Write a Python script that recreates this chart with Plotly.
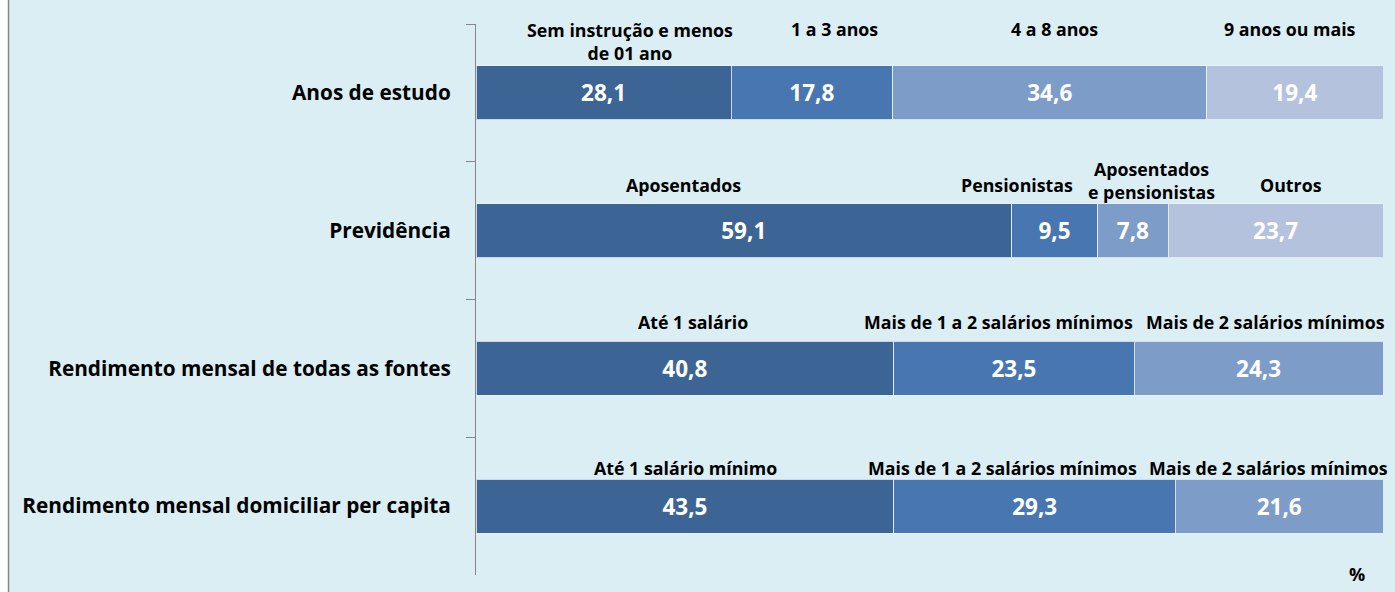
import plotly.graph_objects as go

# ---------------- data ----------------
categories = ["Anos de estudo", "Previdência",
              "Rendimento mensal de todas as fontes",
              "Rendimento mensal domiciliar per capita"]

level1 = [28.1, 59.1, 40.8, 43.5]
level2 = [17.8, 9.5, 23.5, 29.3]
level3 = [34.6, 7.8, 24.3, 21.6]
level4 = [19.4, 23.7, None, None]

labels1 = ["Sem instrução e menos<br>de 01 ano", "Aposentados", "Até 1 salário", "Até 1 salário mínimo"]
labels2 = ["1 a 3 anos", "Pensionistas", "Mais de 1 a 2 salários mínimos", "Mais de 1 a 2 salários mínimos"]
labels3 = ["4 a 8 anos", "Aposentados<br>e pensionistas", "Mais de 2 salários mínimos", "Mais de 2 salários mínimos"]
labels4 = ["9 anos ou mais", "Outros", None, None]

# ---------------- style ----------------
colors = ["rgb(60,100,148)", "rgb(72,118,176)", "rgb(126,156,200)", "rgb(180,194,222)"]
bg = "rgb(219,238,244)"
grey = "rgb(134,134,134)"
FONT = "Open Sans"

# label placement tweaks (pixels) relative to segment centre / bar centre
label_xshift = [[26, 23, 5, -5],
                [-60, -38, 19, 15],
                [8, -15, 7, 0],
                [1, -32, -11, 0]]
label_yshift = [[51, 64, 64, 64],
                [46, 46, 50, 46],
                [46, 46, 46, 0],
                [38, 38, 38, 0]]

levels = [level1, level2, level3, level4]
labels = [labels1, labels2, labels3, labels4]


def fmt(v):
    return "" if v is None else f"{v:.1f}".replace(".", ",")


fig = go.Figure()
for k, vals in enumerate(levels):
    fig.add_trace(go.Bar(
        y=categories, x=vals, orientation="h",
        marker=dict(color=colors[k], line=dict(color="rgba(235,242,250,0.8)", width=1)),
        width=0.392,
        text=[fmt(v) for v in vals],
        textposition="inside", insidetextanchor="middle", textangle=0,
        textfont=dict(family=FONT, size=22.5, color="white", weight="bold"),
        hoverinfo="skip", showlegend=False,
    ))

annotations = []
for i, cat in enumerate(categories):
    row = [lv[i] for lv in levels]
    total = sum(v for v in row if v is not None)
    cum = 0.0
    for k, v in enumerate(row):
        if v is None:
            continue
        centre = (cum + v / 2) / total * 100
        cum += v
        annotations.append(dict(
            x=centre, y=cat, xref="x", yref="y",
            text=labels[k][i], showarrow=False,
            xanchor="center", yanchor="middle",
            xshift=label_xshift[i][k], yshift=label_yshift[i][k],
            font=dict(family=FONT, size=17.8, color="black", weight="bold"),
            align="center",
        ))

annotations.append(dict(
    x=(1357 - 476) / 907, y=(575 - 574) / 551, xref="paper", yref="paper",
    text="%", showarrow=False, xanchor="center", yanchor="middle",
    font=dict(family=FONT, size=18, color="black", weight="bold"),
))

fig.update_layout(
    width=1395, height=592,
    margin=dict(l=476, r=12, t=24, b=17),
    barmode="stack", barnorm="percent",
    paper_bgcolor="white", plot_bgcolor="rgba(0,0,0,0)",
    annotations=annotations,
    shapes=[dict(type="rect", xref="paper", yref="paper",
                 x0=(8.5 - 476) / 907, x1=(1420 - 476) / 907,
                 y0=(575 - 620) / 551, y1=(575 + 40) / 551,
                 fillcolor=bg, line=dict(color=grey, width=1.5), layer="below")],
    xaxis=dict(range=[0, 100], visible=False, fixedrange=True),
    yaxis=dict(
        categoryorder="array", categoryarray=categories,
        range=[3.5, -0.5], tickson="boundaries",
        ticks="outside", ticklen=9, tickcolor=grey, tickwidth=1,
        showline=True, linecolor=grey, linewidth=1,
        showgrid=False, zeroline=False, fixedrange=True,
        ticklabelstandoff=20,
        tickfont=dict(family=FONT, size=20.8, color="black", weight="bold"),
    ),
)

fig.write_html("out.html", config={"displayModeBar": False},
               post_script="document.body.style.margin='0';document.body.style.overflow='hidden';")
